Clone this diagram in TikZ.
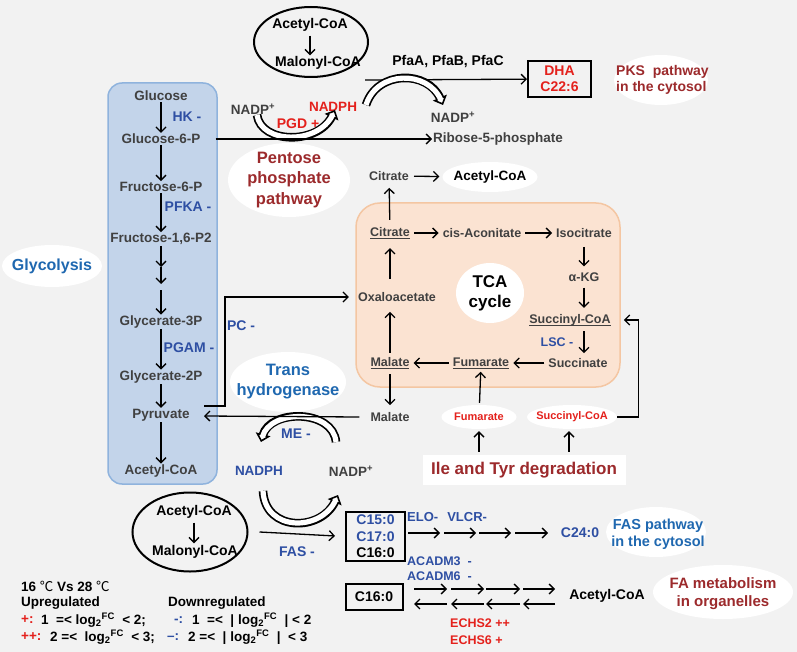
\documentclass[tikz,border=0pt]{standalone}
\usepackage{fontspec}
\setmainfont{Liberation Sans}
\newfontfamily\cjk{Noto Sans CJK SC}
\usetikzlibrary{arrows.meta,shapes.geometric,calc}
\definecolor{bg}{HTML}{F2F2F2}
\definecolor{tg}{HTML}{404040}
\definecolor{eb}{HTML}{2E4FA3}
\definecolor{rd}{HTML}{E4211C}
\definecolor{dr}{HTML}{9C2A2C}
\definecolor{tb}{HTML}{1F68B0}
\definecolor{gfill}{HTML}{C3D4EA}
\definecolor{gline}{HTML}{8FB3DD}
\definecolor{tfill}{HTML}{FBE3D2}
\definecolor{tline}{HTML}{F4C6A2}
\newcommand\fz[2]{\fontsize{#1}{#2}\selectfont\bfseries}
\newcommand\myul[1]{\setbox0\hbox{#1}\rlap{\rule[-2.6pt]{\wd0}{1pt}}\box0}
\newcommand\fatarc[4]{%
  \draw[line width=1.6pt, -{Triangle[length=8pt,width=15pt,fill=white]}] #1 .. controls #2 and #3 .. #4;
  \draw[line width=8.6pt, shorten >=7pt] #1 .. controls #2 and #3 .. #4;
  \draw[line width=5.2pt, white, shorten >=5.5pt] #1 .. controls #2 and #3 .. #4;}
\begin{document}
\begin{tikzpicture}[x=1pt,y=-1pt,
  arr/.style={-{Straight Barb[length=5pt,width=10pt]}, line width=1.3pt},
  sh/.style={shorten <=3pt, shorten >=3pt},
  met/.style={font=\fz{13.5}{15}, text=tg, inner sep=1pt},
  tca/.style={font=\fz{12.5}{14}, text=tg, inner sep=1pt},
  enz/.style={font=\fz{14}{15}, text=eb, inner sep=1pt},
  blk/.style={font=\fz{14}{15}, text=black, inner sep=1pt},
  lab/.style={ellipse, fill=white, inner sep=0pt},
  lg/.style={font=\fz{13.5}{15}, text=black, inner sep=0pt, anchor=west},
  ]
\fill[bg] (0,0) rectangle (797,652);
\useasboundingbox (0,0) rectangle (797,652);

% ---------- glycolysis
\node[draw=gline, fill=gfill, line width=1.5pt, rounded corners=14pt,
      minimum width=109, minimum height=401, inner sep=0] (glybox) at (162.5,283.5) {};
\node[lab, minimum width=100, minimum height=42] (glyE) at (52,266) {};
\node[font=\fz{16}{18}, text=tb] (glyT) at (glyE) {Glycolysis};
\node[met] (glc) at (161,96) {Glucose};
\node[met] (g6p) at (161,139) {Glucose-6-P};
\node[met] (f6p) at (161,187) {Fructose-6-P};
\node[met] (f16) at (161,239) {Fructose-1,6-P2};
\node[met] (g3p) at (161,322) {Glycerate-3P};
\node[met] (g2p) at (161,377) {Glycerate-2P};
\node[met] (pyr) at (161,415) {Pyruvate};
\node[met] (acg) at (161,471) {Acetyl-CoA};
\node[enz] (hk) at (187,117) {HK -};
\node[enz] (pfka) at (188,207) {PFKA -};
\node[enz] (pgam) at (189,348) {PGAM -};
\coordinate (s1) at (161,267);
\coordinate (s2) at (161,284);
\coordinate (s3) at (161,290);
\draw[arr] (glc) -- (g6p);
\draw[arr] (g6p) -- (f6p);
\draw[arr] (f6p) -- (f16);
\draw[arr] (f16) -- (s1);
\draw[arr] (s1) -- (s2);
\draw[arr] (s3) -- (g3p);
\draw[arr] (g3p) -- (g2p);
\draw[arr] (g2p) -- (pyr);
\draw[arr] (pyr) -- (acg);

% ---------- top: PKS and pentose phosphate
\node[draw, ellipse, line width=2pt, minimum width=114, minimum height=70, inner sep=0] (topE) at (311,42) {};
\node[blk] (acT) at (310,25) {Acetyl-CoA};
\node[blk] (malT) at (318,63) {Malonyl-CoA};
\draw[arr, shorten <=3pt] (acT) -- (acT |- malT.north);

\node[met] (nadp1) at (253,109) {NADP\textsuperscript{+}};
\node[font=\fz{13.5}{15}, text=rd, inner sep=1pt] (nadph1) at (333,107) {NADPH};
\node[font=\fz{14}{15}, text=rd, inner sep=1pt] (pgd) at (298,124) {PGD +};
\coordinate (pppS) at (257,115);
\coordinate (pppE) at (335,110);
\fatarc{(pppS)}{(261,144)}{(318,145)}{(pppE)}

\coordinate (pfaS) at (365,80);
\node[blk] (pfa) at (448,62) {PfaA, PfaB, PfaC};
\node[draw, line width=2pt, minimum width=63, minimum height=36, inner sep=0,
      font=\fz{14}{16}, text=rd, align=center] (dha) at (559.5,79) {DHA\\C22:6};
\draw[arr] (pfaS) -- (dha);
\node[lab, minimum width=94, minimum height=50] (pksE) at (661,80) {};
\node[font=\fz{14}{16.5}, text=dr, align=left, anchor=west, inner sep=0] (pksT) at (616,80) {PKS\ \ pathway\\in the cytosol};
\node[met] (nadp2) at (453,117) {NADP\textsuperscript{+}};
\coordinate (pfaArcS) at (366,105);
\coordinate (pfaArcE) at (443,105);
\fatarc{(pfaArcS)}{(377,70)}{(428,70)}{(pfaArcE)}

\node[met, anchor=west] (rib) at (432,139) {Ribose-5-phosphate};
\draw[arr] ([xshift=14pt]g6p.east) -- (rib.west);
\node[lab, minimum width=122, minimum height=74] (ppE) at (289,180) {};
\node[font=\fz{16.5}{20.5}, text=dr, align=center] (ppT) at (ppE) {Pentose\\phosphate\\pathway};

% ---------- TCA
\node[draw=tline, fill=tfill, line width=1.5pt, rounded corners=24pt,
      minimum width=264, minimum height=184, inner sep=0] (tcabox) at (488,295) {};
\node[tca] (citO) at (389,176) {Citrate};
\node[lab, minimum width=95, minimum height=30] (acE) at (490,177) {};
\node[font=\fz{13.5}{15}, text=black] (acEt) at (acE) {Acetyl-CoA};
\draw[arr, shorten <=4pt, shorten >=3pt] (citO) -- (acE);

\node[tca] (cit) at (390,233) {\myul{Citrate}};
\node[tca] (cis) at (482,233) {cis-Aconitate};
\node[tca] (iso) at (584,233) {Isocitrate};
\node[tca] (akg) at (584,277) {α-KG};
\node[tca] (suc) at (570,320) {\myul{Succinyl-CoA}};
\node[font=\fz{12.5}{14}, text=eb, inner sep=1pt] (lsc) at (557,342) {LSC -};
\node[tca] (sn) at (578,363) {Succinate};
\node[tca] (fum) at (481,363) {\myul{Fumarate}};
\node[tca] (mal) at (390,363) {\myul{Malate}};
\node[tca] (oaa) at (397,297) {Oxaloacetate};
\node[lab, minimum width=68, minimum height=60] (tcaE) at (490,293) {};
\node[font=\fz{17}{20}, text=black, align=center] (tcaT) at (tcaE) {TCA\\cycle};

\draw[arr, sh] (cit) -- (cis);
\draw[arr, sh] (cis) -- (iso);
\draw[arr, shorten <=8pt, shorten >=5pt] (iso) -- (akg);
\draw[arr, shorten <=5pt, shorten >=5pt] (akg) -- (akg |- suc.north);
\draw[arr, shorten <=4pt, shorten >=4pt] (akg |- suc.south) -- (akg |- sn.north);
\draw[arr, sh] (sn) -- (fum);
\draw[arr, sh] (fum) -- (mal);
\draw[arr, shorten <=3pt, shorten >=9pt] (mal) -- (mal |- oaa.south);
\draw[arr, shorten <=12pt, shorten >=8pt] (mal |- oaa.north) -- (cit);
\draw[arr, shorten <=6pt, shorten >=6pt] (cit) -- (citO);

\node[tca] (mal2) at (390,417) {Malate};
\draw[arr, shorten <=4pt, shorten >=6pt] (mal) -- (mal2);

\node[lab, minimum width=75, minimum height=24] (fumE) at (479,417) {};
\node[font=\fz{11}{12}, text=rd] (fumEt) at (fumE) {Fumarate};
\node[lab, minimum width=90, minimum height=24] (sucE) at (572,417) {};
\node[font=\fz{11}{12}, text=rd] (sucEt) at (sucE) {Succinyl-CoA};
\node[fill=white, minimum width=203, minimum height=30, inner sep=0,
      font=\fz{17}{18}, text=dr] (ile) at (524,470) {Ile and Tyr degradation};
\draw[arr, shorten <=3pt, shorten >=2pt] (ile.north -| fumE.south) -- (fumE.south);
\draw[arr, shorten <=3pt, shorten >=2pt] ([xshift=-3pt]ile.north -| sucE.south) -- ([xshift=-3pt]sucE.south);
\draw[arr, shorten <=2pt, shorten >=2pt] (fumE) -- (fum);
\draw[arr] (sucE.east) -- ++(21,0) |- ([xshift=12pt]suc.east);

% ---------- transhydrogenase / ME
\node[lab, minimum width=116, minimum height=60] (thE) at (288,382) {};
\node[font=\fz{16.5}{20}, text=tb, align=center] (thT) at (thE) {Trans\\hydrogenase};
\node[enz] (me) at (296,434) {ME -};
\node[font=\fz{13.5}{15}, text=eb, inner sep=1pt] (nadphB) at (259,471) {NADPH};
\node[font=\fz{13.5}{15}, text=tg, inner sep=1pt] (nadpB) at (351,471) {NADP\textsuperscript{+}};
\coordinate (meS) at (336,442);
\coordinate (meE) at (261,442);
\fatarc{(meS)}{(333,409)}{(270,409)}{(meE)}

\coordinate (pyrIn) at (204,416);
\coordinate (pcS) at (204,406);
\draw[arr] ([xshift=-10pt]mal2.west) -- (pyrIn);
\draw[arr, shorten >=8pt] (pcS) -- ++(21,0) |- (oaa.west);
\node[enz] (pc) at (241,326) {PC -};

% ---------- FAS
\node[draw, ellipse, line width=2pt, minimum width=115, minimum height=79, inner sep=0] (botE) at (190,532) {};
\node[blk] (acB) at (194,512) {Acetyl-CoA};
\node[blk] (malB) at (195,552) {Malonyl-CoA};
\draw[arr, shorten <=3pt, shorten >=1pt] (acB) -- (acB |- malB.north);
\coordinate (fasArcS) at (263,491);
\coordinate (fasArcE) at (338,495);
\fatarc{(fasArcS)}{(265,532)}{(321,532)}{(fasArcE)}
\node[draw, line width=2pt, minimum width=59, minimum height=49, inner sep=0, align=center,
      font=\fz{14}{16.5}] (fasbox) at (375.5,536.5) {\textcolor{eb}{C15:0}\\\textcolor{eb}{C17:0}\\C16:0};
\draw[arr, shorten >=10pt] ([xshift=11pt]botE.east) -- (fasbox.west);
\node[enz] (fas) at (297,552) {FAS -};

\node[font=\fz{13}{14}, text=eb, inner sep=0, anchor=west] (elo) at (407,517) {ELO-\hspace{9pt}VLCR-};
\node[font=\fz{14}{15}, text=eb, inner sep=1pt] (c24) at (580,533) {C24:0};
\foreach \a/\b [count=\i] in {408/440,444/476,479/511,515/548} {
  \coordinate (eA\i) at (\a,533);
  \coordinate (eB\i) at (\b,533);
  \draw[arr] (eA\i) -- (eB\i);
}
\node[lab, minimum width=100, minimum height=50] (fasE) at (656,532) {};
\node[font=\fz{14.5}{17}, text=tb, align=center] (fasT) at (658,534) {FAS pathway\\in the cytosol};

\node[font=\fz{12.5}{14}, text=eb, inner sep=0, anchor=west] (acadm3) at (407,561) {ACADM3\ \ -};
\node[font=\fz{12.5}{14}, text=eb, inner sep=0, anchor=west] (acadm6) at (407,576) {ACADM6\ \ -};
\node[draw, line width=2pt, minimum width=57, minimum height=26, inner sep=0,
      font=\fz{14}{15}] (c16) at (374,597) {C16:0};
\node[font=\fz{14}{15}, text=black, inner sep=1pt] (acF) at (607,596) {Acetyl-CoA};
\foreach \a/\b [count=\i] in {414/447,451/484,486/520,523/555} {
  \coordinate (fA\i) at (\a,589);
  \coordinate (fB\i) at (\b,589);
  \coordinate (bA\i) at (\b,604);
  \coordinate (bB\i) at (\a,604);
  \draw[arr] (fA\i) -- (fB\i);
  \draw[arr] (bA\i) -- (bB\i);
}
\node[font=\fz{12.5}{14}, text=rd, inner sep=0, anchor=west] (echs2) at (450,623) {ECHS2 ++};
\node[font=\fz{12.5}{14}, text=rd, inner sep=0, anchor=west] (echs6) at (450,640) {ECHS6 +};
\node[lab, minimum width=140, minimum height=54] (faE) at (723,592) {};
\node[font=\fz{15}{18}, text=dr, align=center] (faT) at (723,594) {FA metabolism\\in organelles};

% ---------- legend
\node[lg] (l1) at (21,586) {16 {\cjk\mdseries ℃} Vs 28 {\cjk\mdseries ℃}};
\node[lg] (l2a) at (21,603) {Upregulated};
\node[lg] (l2b) at (168,603) {Downregulated};
\node[lg, text=rd] (l3a) at (21,620) {+:};
\node[lg] (l3b) at (41,620) {1 \ =< log\textsubscript{2}\textsuperscript{FC} \ < 2;};
\node[lg, text=eb] (l3c) at (174,620) {-:};
\node[lg] (l3d) at (192,620) {1 \ =< \ | log\textsubscript{2}\textsuperscript{FC} \ | < 2};
\node[lg, text=rd] (l4a) at (21,637) {++:};
\node[lg] (l4b) at (50,637) {2 =< \ log\textsubscript{2}\textsuperscript{FC} \ < 3;};
\node[lg, text=eb] (l4c) at (167,637) {--:};
\node[lg] (l4d) at (188,637) {2 =< \ | log\textsubscript{2}\textsuperscript{FC} \ | \ < 3};
\end{tikzpicture}
\end{document}
